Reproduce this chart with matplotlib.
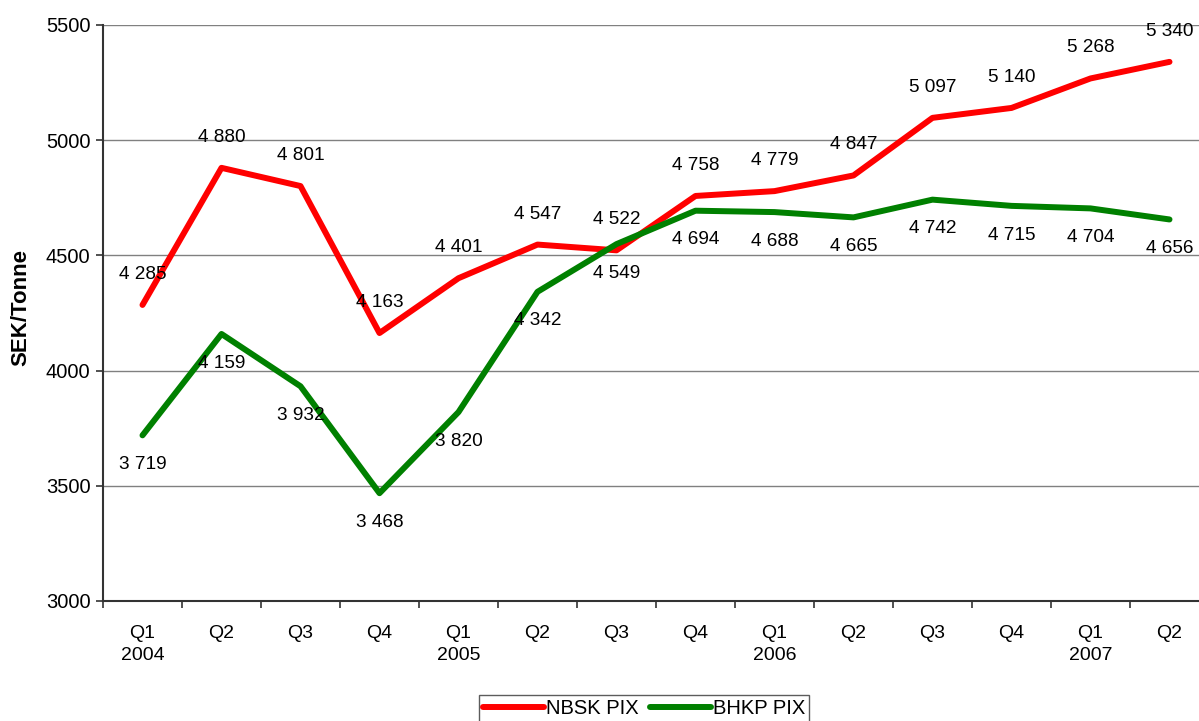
import matplotlib.pyplot as plt
import numpy as np

plt.rcParams['font.family'] = ['Liberation Sans', 'DejaVu Sans']

quarters = ['Q1\n2004', 'Q2', 'Q3', 'Q4', 'Q1\n2005', 'Q2', 'Q3', 'Q4',
            'Q1\n2006', 'Q2', 'Q3', 'Q4', 'Q1\n2007', 'Q2']
nbsk = [4285, 4880, 4801, 4163, 4401, 4547, 4522, 4758, 4779, 4847, 5097, 5140, 5268, 5340]
bhkp = [3719, 4159, 3932, 3468, 3820, 4342, 4549, 4694, 4688, 4665, 4742, 4715, 4704, 4656]


def fmt(v):
    return '{:,}'.format(v).replace(',', ' ')


fig = plt.figure(figsize=(11.99, 7.21), dpi=100)
ax = fig.add_axes([103 / 1199, 120 / 721, 1106 / 1199, 576 / 721])

x = np.arange(len(quarters))
ax.plot(x, nbsk, color='#ff0000', lw=4.3, solid_capstyle='round', label='NBSK PIX')
ax.plot(x, bhkp, color='#008000', lw=4.3, solid_capstyle='round', label='BHKP PIX')

for i, v in enumerate(nbsk):
    ax.annotate(fmt(v), (i, v), xytext=(0, 22), textcoords='offset points',
                ha='center', va='center', fontsize=13.7)
for i, v in enumerate(bhkp):
    ax.annotate(fmt(v), (i, v), xytext=(0, -21), textcoords='offset points',
                ha='center', va='center', fontsize=13.7)

ax.set_xlim(-0.5, len(quarters) - 0.5)
ax.set_ylim(3000, 5500)
ax.set_yticks(np.arange(3000, 5501, 500))
ax.set_xticks(x)
ax.set_xticklabels(quarters, fontsize=14, linespacing=1.45)
ax.set_xticks(np.arange(-0.5, len(quarters), 1), minor=True)
ax.tick_params(axis='x', which='major', length=0, pad=17)
ax.tick_params(axis='x', which='minor', length=5, width=1.2, color='#333333')
ax.tick_params(axis='y', length=5, width=1.2, color='#333333', labelsize=14.5, pad=4)

ax.grid(axis='y', color='#808080', lw=1)
ax.set_axisbelow(True)
for s in ['top', 'right']:
    ax.spines[s].set_visible(False)
ax.spines['left'].set_color('#333333')
ax.spines['left'].set_linewidth(1.5)
ax.spines['bottom'].set_color('#333333')
ax.spines['bottom'].set_linewidth(1.5)

ax.set_ylabel('SEK/Tonne', fontsize=16, fontweight='bold')
ax.yaxis.set_label_coords(-0.065, 0.51)

fig.legend(loc='center', bbox_to_anchor=(644 / 1199, 12 / 721), ncol=2,
           fontsize=14.5, frameon=True, fancybox=False, edgecolor='#333333',
           handlelength=3, columnspacing=0.6, handletextpad=0.1, borderpad=0.2,
           borderaxespad=0)

fig.savefig('out.png', dpi=100)
